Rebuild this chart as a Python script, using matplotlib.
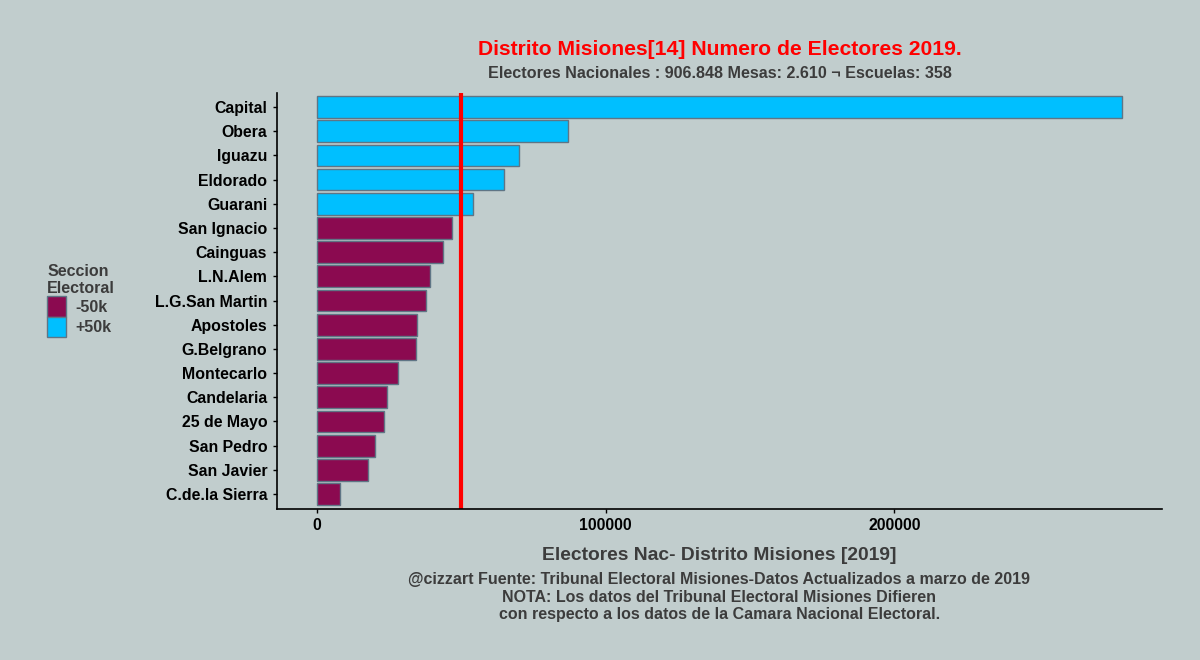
import matplotlib.pyplot as plt
from matplotlib.patches import Patch

plt.rcParams['font.family'] = ['Liberation Sans', 'DejaVu Sans']

# datos
secciones = ['Capital', 'Obera', 'Iguazu', 'Eldorado', 'Guarani', 'San Ignacio',
             'Cainguas', 'L.N.Alem', 'L.G.San Martin', 'Apostoles', 'G.Belgrano',
             'Montecarlo', 'Candelaria', '25 de Mayo', 'San Pedro', 'San Javier',
             'C.de.la Sierra']
electores = [278800, 86800, 69800, 64600, 53900, 46600, 43500, 39000, 37600,
             34500, 34100, 27900, 24100, 23000, 20200, 17500, 7800]
umbral = 50000
xticks = [0, 100000, 200000]

bg = '#C1CDCD'
col_mas = '#00BFFF'
col_menos = '#8B0A50'
gris = '#3C3C3C'

fig = plt.figure(figsize=(12, 6.6), dpi=100, facecolor=bg)
ax = fig.add_axes([0.2308, 0.2295, 0.7375, 0.6303], facecolor=bg)

# barras de abajo hacia arriba
nombres = secciones[::-1]
valores = electores[::-1]
colores = [col_mas if v > umbral else col_menos for v in valores]
ax.barh(nombres, valores, height=0.9, color=colores, edgecolor='#5F7585', linewidth=1)
ax.axvline(umbral, color='#FF0000', linewidth=3)

mx = max(electores)
ax.set_xlim(-0.05 * mx, 1.05 * mx)
ax.set_ylim(-0.6, len(secciones) - 0.4)
ax.set_xticks(xticks)
ax.set_xticklabels([str(t) for t in xticks])

for s in ['top', 'right']:
    ax.spines[s].set_visible(False)
for s in ['left', 'bottom']:
    ax.spines[s].set_color('black')
    ax.spines[s].set_linewidth(1.2)
ax.tick_params(axis='both', length=3, width=1, color='black', labelsize=11.4, pad=4)
for lab in ax.get_xticklabels() + ax.get_yticklabels():
    lab.set_fontweight('bold')
    lab.set_color('black')

ax.set_xlabel('Electores Nac- Distrito Misiones [2019]', fontsize=13.9,
              fontweight='bold', color=gris, labelpad=10)

cx = 0.2308 + 0.7375 / 2
fig.text(cx, 0.925, 'Distrito Misiones[14] Numero de Electores 2019.', ha='center',
         va='center', fontsize=15.2, fontweight='bold', color='#FF0000')
fig.text(cx, 0.889, 'Electores Nacionales : 906.848 Mesas: 2.610 \u00ac Escuelas: 358',
         ha='center', va='center', fontsize=11.6, fontweight='bold', color=gris)
fig.text(cx, 0.095, '@cizzart Fuente: Tribunal Electoral Misiones-Datos Actualizados a marzo de 2019\n'
         'NOTA: Los datos del Tribunal Electoral Misiones Difieren\n'
         'con respecto a los datos de la Camara Nacional Electoral.',
         ha='center', va='center', fontsize=11.5, fontweight='bold', color=gris,
         linespacing=1.22)

handles = [Patch(facecolor=col_menos, edgecolor='#5F7585', label='-50k'),
           Patch(facecolor=col_mas, edgecolor='#5F7585', label='+50k')]
leg = fig.legend(handles=handles, title='Seccion\nElectoral', loc='upper left',
                 bbox_to_anchor=(0.030, 0.617), frameon=False, fontsize=11.5,
                 title_fontsize=11.5, handlelength=1.2, handleheight=1.6,
                 handletextpad=0.55, labelspacing=0.0, borderpad=0.2)
leg.get_title().set_fontweight('bold')
leg.get_title().set_color(gris)
leg._legend_box.align = 'left'
for t in leg.get_texts():
    t.set_fontweight('bold')
    t.set_color(gris)

fig.savefig('out.png', dpi=100, facecolor=bg)
